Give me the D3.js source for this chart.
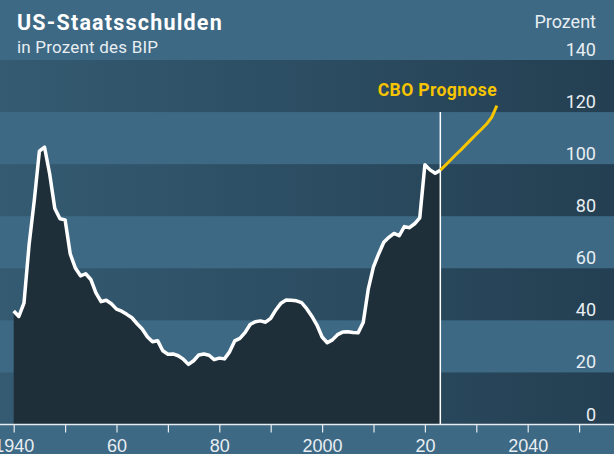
<!DOCTYPE html>
<html>
<head>
<meta charset="utf-8">
<script src="https://cdn.jsdelivr.net/npm/d3@7"></script>
<style>
  html, body { margin: 0; padding: 0; background: #3d6985; }
  svg { display: block; font-family: Roboto, "Noto Sans", sans-serif; }
</style>
</head>
<body>
<div id="chart"></div>
<script>
// debt held by the public, % of GDP
const histYears = d3.range(1940, 2024);
const histValues = [
  43.6, 41.5, 46.6, 69.2, 86.0, 105.0, 106.5, 96.2, 83.0, 79.0,
  78.6, 65.5, 60.1, 57.1, 57.9, 55.7, 50.6, 47.2, 47.7, 46.4,
  44.3, 43.5, 42.3, 41.0, 38.7, 36.7, 33.7, 31.8, 32.2, 28.3,
  27.0, 27.1, 26.4, 25.1, 23.1, 24.5, 26.7, 27.1, 26.6, 24.9,
  25.5, 25.2, 27.9, 32.1, 33.1, 35.3, 38.4, 39.5, 39.8, 39.3,
  40.8, 44.0, 46.6, 47.8, 47.7, 47.5, 46.8, 44.5, 41.6, 38.2,
  33.6, 31.4, 32.5, 34.5, 35.5, 35.6, 35.3, 35.2, 39.2, 52.2,
  60.6, 65.5, 70.0, 71.9, 73.4, 72.5, 76.0, 75.6, 77.1, 79.4,
  99.8, 97.8, 96.5, 97.7
];

// CBO projection
const projYears = d3.range(2023, 2035);
const projValues = [97.7, 99.6, 101.6, 103.6, 105.5, 107.5, 109.5, 111.5, 113.4, 115.4, 118.0, 122.5];

const yTicks = [0, 20, 40, 60, 80, 100, 120, 140];
const darkBands = [[0, 20], [40, 60], [80, 100], [120, 140]];
const xTicks = d3.range(1940, 2051, 10);
const xLabels = { 1940: "1940", 1960: "60", 1980: "80", 2000: "2000", 2020: "20", 2040: "2040" };
const splitYear = 2023;

const W = 614, H = 454;

const svg = d3.select("#chart").append("svg")
  .attr("width", W)
  .attr("height", H);

const x = d3.scaleLinear().domain([1940, 2040]).range([13.7, 527.7]);
const y = d3.scaleLinear().domain([0, 140]).range([424.5, 60]);

// gradient for the darker stripes
const grad = svg.append("defs").append("linearGradient")
  .attr("id", "bandGrad")
  .attr("x1", 0).attr("x2", 1).attr("y1", 0).attr("y2", 0);
grad.append("stop").attr("offset", "0%").attr("stop-color", "#345b72");
grad.append("stop").attr("offset", "100%").attr("stop-color", "#243f52");

svg.append("rect")
  .attr("width", W).attr("height", H)
  .attr("fill", "#3d6985");

svg.selectAll("rect.band")
  .data(darkBands)
  .join("rect")
  .attr("class", "band")
  .attr("x", 0)
  .attr("width", W)
  .attr("y", (d) => y(d[1]))
  .attr("height", (d) => y(d[0]) - y(d[1]))
  .attr("fill", "url(#bandGrad)");

const hist = histYears.map((yr, i) => ({ year: yr, value: histValues[i] }));
const proj = projYears.map((yr, i) => ({ year: yr, value: projValues[i] }));

// area under the historical line
svg.append("path")
  .datum(hist)
  .attr("fill", "#1f2f39")
  .attr("d", d3.area().x((d) => x(d.year)).y0(y(0)).y1((d) => y(d.value)));

// separator at start of projection
svg.append("line")
  .attr("x1", x(splitYear)).attr("x2", x(splitYear))
  .attr("y1", y(0)).attr("y2", y(120))
  .attr("stroke", "#ffffff")
  .attr("stroke-width", 1.5);

svg.append("path")
  .datum(proj)
  .attr("fill", "none")
  .attr("stroke", "#f6c400")
  .attr("stroke-width", 3)
  .attr("stroke-linejoin", "round")
  .attr("d", d3.line().x((d) => x(d.year)).y((d) => y(d.value)));

svg.append("path")
  .datum(hist)
  .attr("fill", "none")
  .attr("stroke", "#ffffff")
  .attr("stroke-width", 3.5)
  .attr("stroke-linejoin", "round")
  .attr("d", d3.line().x((d) => x(d.year)).y((d) => y(d.value)));

// x axis
const xAxis = svg.append("g")
  .attr("transform", `translate(0,${y(0)})`)
  .call(d3.axisBottom(x).tickValues(xTicks).tickSize(8).tickSizeOuter(0)
    .tickFormat((d) => xLabels[d] || ""));
xAxis.select(".domain").remove();
xAxis.selectAll(".tick line").attr("stroke", "#e6ecf0").attr("stroke-width", 1.2);
xAxis.selectAll(".tick text")
  .attr("fill", "#e8eef2")
  .attr("font-size", 18)
  .attr("y", 27)
  .attr("dy", 0);
xAxis.append("line")
  .attr("x1", 0).attr("x2", W)
  .attr("stroke", "#e6ecf0")
  .attr("stroke-width", 1.5);

// y labels on the right
svg.selectAll("text.ylab")
  .data(yTicks)
  .join("text")
  .attr("class", "ylab")
  .attr("x", 596)
  .attr("y", (d) => y(d) - 4)
  .attr("text-anchor", "end")
  .attr("fill", "#e8eef2")
  .attr("font-size", 18)
  .text((d) => d);

svg.append("text")
  .attr("x", 596).attr("y", 28)
  .attr("text-anchor", "end")
  .attr("fill", "#e8eef2")
  .attr("font-size", 18)
  .text("Prozent");

// titles
svg.append("text")
  .attr("x", 17).attr("y", 30)
  .attr("fill", "#ffffff")
  .attr("font-size", 21.5)
  .attr("font-weight", "bold")
  .attr("letter-spacing", 1.2)
  .text("US-Staatsschulden");

svg.append("text")
  .attr("x", 17).attr("y", 52.5)
  .attr("fill", "#e8eef2")
  .attr("font-size", 17)
  .attr("letter-spacing", 0.2)
  .text("in Prozent des BIP");

svg.append("text")
  .attr("x", 497).attr("y", 96)
  .attr("text-anchor", "end")
  .attr("fill", "#f6c400")
  .attr("font-size", 17.5)
  .attr("font-weight", "bold")
  .attr("letter-spacing", 0.4)
  .text("CBO Prognose");
</script>
</body>
</html>
